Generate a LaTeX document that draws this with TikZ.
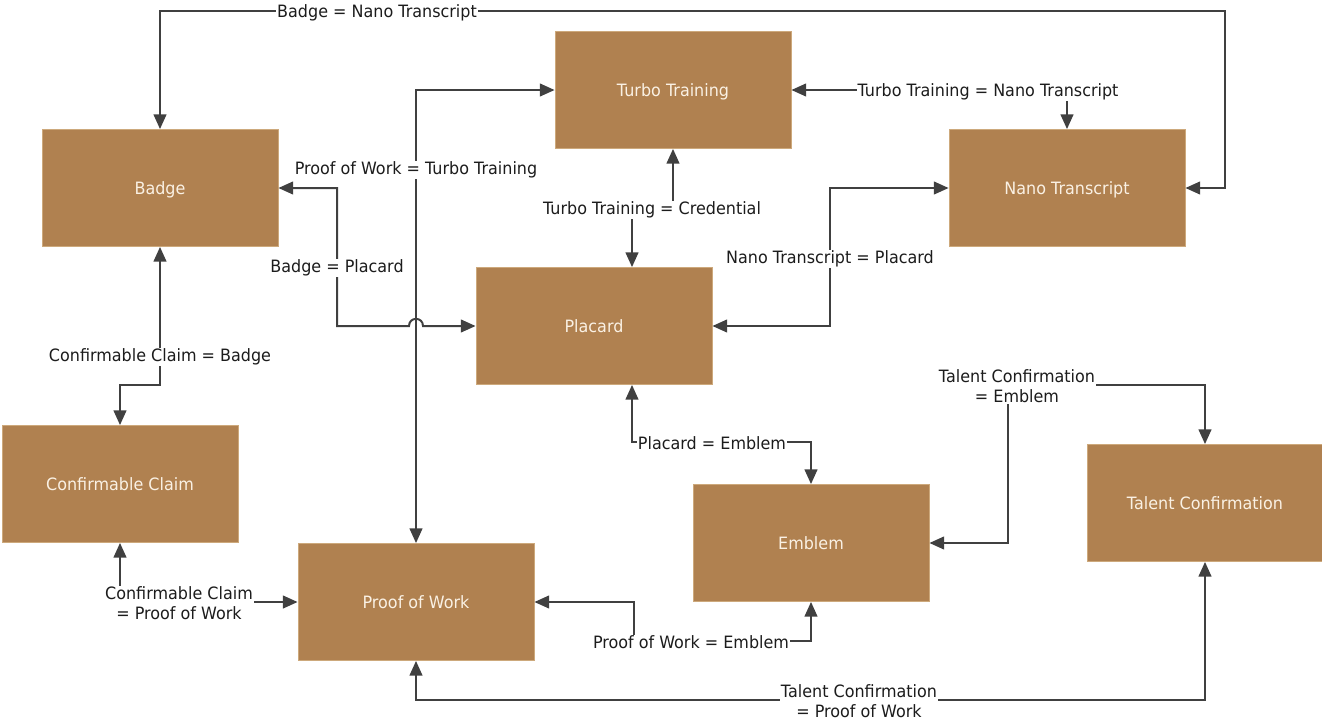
\documentclass[tikz,border=0pt]{standalone}
\usepackage{fontspec}
\setmainfont{DejaVu Sans}[FakeStretch=0.94]
\usetikzlibrary{arrows.meta}
\definecolor{boxfill}{HTML}{B08150}
\definecolor{boxedge}{HTML}{CDA97C}
\definecolor{boxtext}{HTML}{FAF1E4}
\definecolor{linec}{HTML}{404040}
\definecolor{labeltext}{HTML}{1C1C1C}
\tikzset{
  entity/.style={rectangle, fill=boxfill, draw=boxedge, line width=0.6pt,
    minimum width=177pt, minimum height=87.75pt, inner sep=0pt,
    text height=12.7pt, text depth=3pt,
    text=boxtext, font=\fontsize{12.75pt}{15pt}\selectfont},
  conn/.style={draw=linec, line width=1.5pt,
    {Triangle[length=11pt,width=9.5pt]}-{Triangle[length=11pt,width=9.5pt]}},
  lbl/.style={fill=white, inner sep=0.6pt, text=labeltext, align=center,
    yshift=-1.2pt, font=\fontsize{12.75pt}{15pt}\selectfont}
}
\begin{document}
\begin{tikzpicture}[x=0.75pt, y=-0.75pt]
\useasboundingbox (0,0) rectangle (1322,721);

% entities
\node[entity] (turbo)   at (673,90)  {Turbo Training};
\node[entity] (badge)   at (160,188) {Badge};
\node[entity] (nano)    at (1067,188) {Nano Transcript};
\node[entity] (placard) at (594,326) {Placard};
\node[entity] (cc)      at (120,484) {Confirmable Claim};
\node[entity] (tc)      at (1205,503) {Talent Confirmation};
\node[entity] (emblem)  at (811,543) {Emblem};
\node[entity] (pow)     at (416,602) {Proof of Work};

% relations
\draw[conn] (nano.east) -- (1225,188) -- (1225,11)
  -- (377,11) node[lbl] {Badge = Nano Transcript} -- (160,11) -- (badge.north);

\draw[conn] (turbo.east) -- (988,90) node[lbl] {Turbo Training = Nano Transcript}
  -- (1067,90) -- (nano.north);

\draw[conn] (turbo.west) -- (416,90)
  -- (416,168) node[lbl] {Proof of Work = Turbo Training} -- (pow.north);

\draw[conn] (badge.east) -- (337,188)
  -- (337,266) node[lbl] {Badge = Placard} -- (337,326) -- (409,326)
  .. controls (409,316.5) and (423,316.5) .. (423,326) -- (placard.west);

\draw[conn] (turbo.south) -- (673,208)
  -- (652,208) node[lbl] {Turbo Training = Credential} -- (632,208)
  -- (632,0 |- placard.north);

\draw[conn] (nano.west) -- (830,188)
  -- (830,257) node[lbl] {Nano Transcript = Placard} -- (830,326) -- (placard.east);

\draw[conn] (badge.south) -- (160,355) node[lbl] {Confirmable Claim = Badge}
  -- (160,385) -- (120,385) -- (cc.north);

\draw[conn] (632,0 |- placard.south) -- (632,442)
  -- (712,442) node[lbl] {Placard = Emblem} -- (811,442) -- (emblem.north);

\draw[conn] (emblem.east) -- (1008,543) -- (1008,385)
  -- (1017,385) node[lbl] {Talent Confirmation\\= Emblem} -- (1205,385) -- (tc.north);

\draw[conn] (cc.south) -- (120,602)
  -- (179,602) node[lbl] {Confirmable Claim\\= Proof of Work} -- (pow.west);

\draw[conn] (emblem.south) -- (811,641)
  -- (691,641) node[lbl] {Proof of Work = Emblem} -- (634,641) -- (634,602) -- (pow.east);

\draw[conn] (pow.south) -- (416,700)
  -- (859,700) node[lbl] {Talent Confirmation\\= Proof of Work} -- (1205,700) -- (tc.south);
\end{tikzpicture}
\end{document}
